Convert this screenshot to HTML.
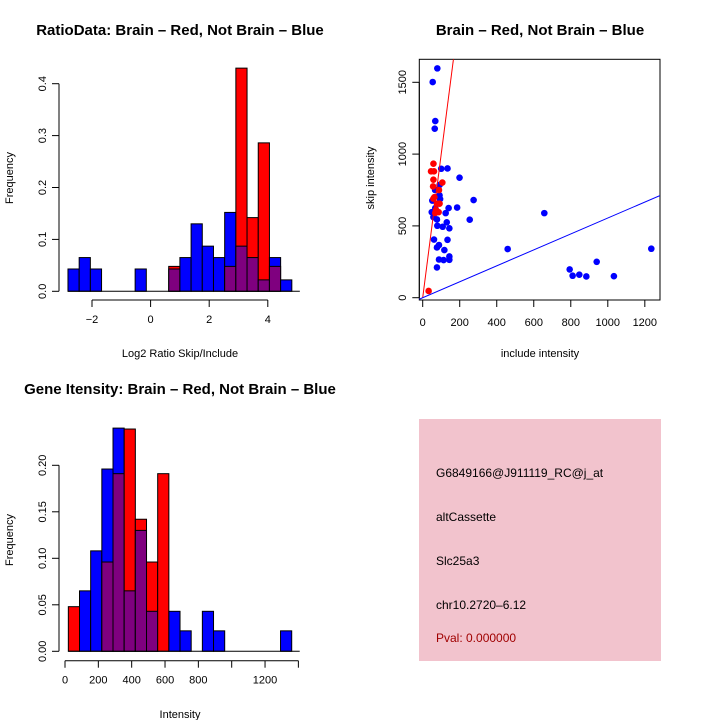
<!DOCTYPE html>
<html><head><meta charset="utf-8"><style>
body{margin:0;background:#fff}
svg{display:block;font-family:"Liberation Sans",sans-serif}
</style></head><body>
<svg id="c" width="720" height="720" viewBox="0 0 720 720">
<rect x="0" y="0" width="720" height="720" fill="#fff"/>
<g id="p1"></g>
<g id="p2"></g>
<g id="p3"></g>
<g>
<rect x="419" y="419" width="242" height="242" fill="#f2c3cd"/>
<g font-size="12" fill="#000">
<text x="436" y="477">G6849166@J911119_RC@j_at</text>
<text x="436" y="521">altCassette</text>
<text x="436" y="565">Slc25a3</text>
<text x="436" y="609">chr10.2720–6.12</text>
<text x="436" y="642" fill="#a00000">Pval: 0.000000</text>
</g></g>
</svg>
<script>
// ---- Data: ratio histogram (20 bins, start -2.82, width 0.382)
const ratioRed  = [0,0,0,0,0,0,0,0,0,0.048,0,0,0,0,0.048,0.43,0.142,0.286,0.048,0];
const ratioBlue = [0.043,0.065,0.043,0,0,0,0.043,0,0,0.043,0.065,0.13,0.087,0.065,0.152,0.087,0.065,0.022,0.065,0.022];
const ratioXTicks = [-2,0,2,4];
const ratioYTicks = [0,0.1,0.2,0.3,0.4];
const ratioYLabels = ["0.0","0.1","0.2","0.3","0.4"];
// ---- Data: intensity histogram (20 bins, start 20, width 67)
const intRed  = [0.048,0,0,0.096,0.191,0.239,0.142,0.096,0.191,0,0,0,0,0,0,0,0,0,0,0];
const intBlue = [0,0.065,0.108,0.196,0.24,0.065,0.13,0.043,0,0.043,0.022,0,0.043,0.022,0,0,0,0,0,0.022];
const intXTicks = [0,200,400,600,800,1000,1200,1400];
const intXLabels = ["0","200","400","600","800","","1200",""];
const intYTicks = [0,0.05,0.1,0.15,0.2];
const intYLabels = ["0.00","0.05","0.10","0.15","0.20"];
// ---- Data: scatter
const blueX = [79,54,68,65,100,134,199,91,67,91,94,52,275,186,140,68,49,124,58,77,254,79,108,130,144,657,61,134,88,77,117,144,144,88,113,77,459,794,810,846,884,940,1033,1235];
const blueY = [1597,1502,1230,1177,898,900,836,785,750,713,687,676,680,628,624,624,596,589,561,545,543,501,494,525,483,589,405,403,367,350,332,287,264,266,262,211,339,197,153,160,148,250,150,341];
const redX = [32,45,61,58,58,56,106,58,88,77,86,68,91,63,72];
const redY = [47,880,880,933,822,775,802,690,750,655,596,590,655,700,610];
const scXTicks = [0,200,400,600,800,1000,1200];
const scYTicks = [0,500,1000,1500];
const redSlope = 10, blueSlope = 0.555;

const NS="http://www.w3.org/2000/svg";
function mk(parent,tag,attrs,text){const e=document.createElementNS(NS,tag);for(const k in attrs)e.setAttribute(k,attrs[k]);if(text!==undefined)e.textContent=text;parent.appendChild(e);return e;}

function histogram(g,o){
  const X=v=>o.x0+(v-o.v0)*o.sx, Y=v=>o.y0-v*o.sy;
  for(let i=0;i<o.red.length;i++){
    const a=o.start+i*o.w, b=a+o.w, r=o.red[i], bl=o.blue[i];
    const big=Math.max(r,bl), small=Math.min(r,bl);
    if(big>0){
      const e=mk(g,'rect',{x:X(a),y:Y(big),width:X(b)-X(a),height:Y(0)-Y(big),fill:r>=bl?'#ff0000':'#0000ff',stroke:'#000','stroke-width':1});
      
      
    }
    if(small>0){
      const e=mk(g,'rect',{x:X(a),y:Y(small),width:X(b)-X(a),height:Y(0)-Y(small),fill:'#7f007f',stroke:'#000','stroke-width':1});
      
      
    }
  }
  const xa=mk(g,'g',{});
  
  
  mk(xa,'line',{x1:X(o.xt[0]),x2:X(o.xt[o.xt.length-1]),y1:o.xay,y2:o.xay,stroke:'#000'});
  o.xt.forEach((t,i)=>{mk(xa,'line',{x1:X(t),x2:X(t),y1:o.xay,y2:o.xay+7,stroke:'#000'});
    const lab=o.xl?o.xl[i]:(t<0?'−'+(-t):String(t));
    if(lab) mk(xa,'text',{x:X(t),y:o.xay+23,'font-size':11,'text-anchor':'middle'},lab);});
  const ya=mk(g,'g',{});
  
  
  mk(ya,'line',{x1:o.yax,x2:o.yax,y1:Y(o.yt[0]),y2:Y(o.yt[o.yt.length-1]),stroke:'#000'});
  o.yt.forEach((t,i)=>{mk(ya,'line',{x1:o.yax,x2:o.yax-7,y1:Y(t),y2:Y(t),stroke:'#000'});
    mk(ya,'text',{x:0,y:0,'font-size':11,'text-anchor':'middle',transform:`translate(${o.yax-13},${Y(t)}) rotate(-90)`},o.yl[i]);});
  mk(g,'line',{x1:X(o.start),x2:X(o.start+o.red.length*o.w)+8,y1:Y(0),y2:Y(0),stroke:'#000'});
}

const p1=document.getElementById('p1');
histogram(p1,{red:ratioRed,blue:ratioBlue,start:-2.82,w:0.382,x0:150.6,v0:0,sx:29.3,y0:291.3,sy:519,xt:ratioXTicks,xay:300,yt:ratioYTicks,yl:ratioYLabels,yax:59});
const p3=document.getElementById('p3');
histogram(p3,{red:intRed,blue:intBlue,start:20,w:67,x0:65,v0:0,sx:0.1667,y0:651.3,sy:930,xt:intXTicks,xl:intXLabels,xay:660.7,yt:intYTicks,yl:intYLabels,yax:59});

function addText(g,x,y,s,txt,name,extra){const e=mk(g,'text',Object.assign({x:x,y:y,'font-size':s,'text-anchor':'middle'},extra||{}),txt);return e;}
addText(p1,180,35,15,'RatioData: Brain – Red, Not Brain – Blue','ratio-title',{'font-weight':'bold'});
addText(p1,180,357,11,'Log2 Ratio Skip/Include','ratio-x-title');
addText(p1,0,0,11,'Frequency','ratio-y-title',{transform:'translate(13,178) rotate(-90)'});
addText(p3,180,394,15,'Gene Itensity: Brain – Red, Not Brain – Blue','intensity-title',{'font-weight':'bold'});
addText(p3,180,718,11,'Intensity','intensity-x-title');
addText(p3,0,0,11,'Frequency','intensity-y-title',{transform:'translate(13,540) rotate(-90)'});

const p2=document.getElementById('p2');
const SX=v=>422.7+v*0.1851, SY=v=>297.7-v*0.1436;
const clip=mk(p2,'clipPath',{id:'sc'});mk(clip,'rect',{x:419.3,y:59.3,width:240.7,height:240.7});
const box=mk(p2,'rect',{x:419.3,y:59.3,width:240.7,height:240.7,fill:'none',stroke:'#000'});


const pts=mk(p2,'g',{'clip-path':'url(#sc)'});
blueX.forEach((x,i)=>{const c=mk(pts,'circle',{cx:SX(x),cy:SY(blueY[i]),r:3.3,fill:'#0000ff'});

});
redX.forEach((x,i)=>{const c=mk(pts,'circle',{cx:SX(x),cy:SY(redY[i]),r:3.3,fill:'#ff0000'});

});
const rl=mk(pts,'line',{x1:SX(0),y1:SY(0),x2:SX(200),y2:SY(200*redSlope),stroke:'#ff0000'});


const bl=mk(pts,'line',{x1:SX(-50),y1:SY(-50*blueSlope),x2:SX(1400),y2:SY(1400*blueSlope),stroke:'#0000ff'});


const sxa=mk(p2,'g',{});


mk(sxa,'line',{x1:SX(0),x2:SX(1200),y1:300,y2:300,stroke:'#000'});
scXTicks.forEach(t=>{mk(sxa,'line',{x1:SX(t),x2:SX(t),y1:300,y2:307,stroke:'#000'});mk(sxa,'text',{x:SX(t),y:326,'font-size':11,'text-anchor':'middle'},String(t));});
const sya=mk(p2,'g',{});


mk(sya,'line',{x1:419.3,x2:419.3,y1:SY(0),y2:SY(1500),stroke:'#000'});
scYTicks.forEach(t=>{mk(sya,'line',{x1:419.3,x2:412.3,y1:SY(t),y2:SY(t),stroke:'#000'});mk(sya,'text',{x:0,y:0,'font-size':11,'text-anchor':'middle',transform:`translate(406,${SY(t)}) rotate(-90)`},String(t));});
addText(p2,540,35,15,'Brain – Red, Not Brain – Blue','scatter-title',{'font-weight':'bold'});
addText(p2,540,357,11,'include intensity','scatter-x-title');
addText(p2,0,0,11,'skip intensity','scatter-y-title',{transform:'translate(374,178) rotate(-90)'});
</script>
</body></html>
